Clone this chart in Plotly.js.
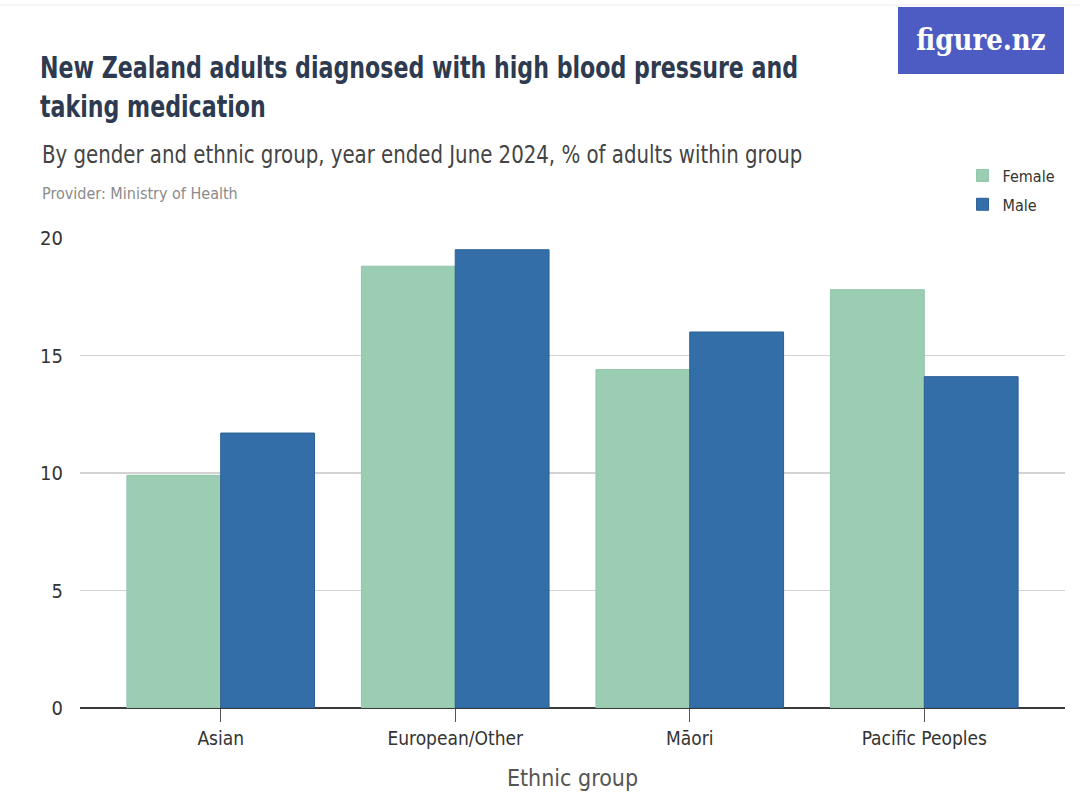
<!DOCTYPE html>
<html>
<head>
<meta charset="utf-8">
<script src="https://cdn.plot.ly/plotly-3.0.1.min.js"></script>
<style>
  html, body { margin: 0; padding: 0; background: #ffffff; }
  #chart { width: 1080px; height: 806px; }
</style>
</head>
<body>
<div id="chart"></div>
<script>
// Ethnic groups and the share (%) of adults in each group on blood pressure medication
const categories = ["Asian", "European/Other", "Māori", "Pacific Peoples"];
const femaleValues = [9.9, 18.8, 14.4, 17.8];
const maleValues = [11.7, 19.5, 16.0, 14.1];
const yTicks = [0, 5, 10, 15, 20];

const FONT = '"DejaVu Sans Condensed", "Liberation Sans", sans-serif';

const traces = [
  {
    type: "bar",
    name: "Female",
    legendgroup: "female",
    x: categories,
    y: femaleValues,
    marker: { color: "#9acdb2", line: { color: "#92c6aa", width: 1 } },
    hoverinfo: "x+y+name"
  },
  {
    type: "bar",
    name: "Male",
    legendgroup: "male",
    x: categories,
    y: maleValues,
    marker: { color: "#336ea9", line: { color: "#2b5f95", width: 1 } },
    hoverinfo: "x+y+name"
  }
];

const layout = {
  width: 1080,
  height: 806,
  paper_bgcolor: "#ffffff",
  plot_bgcolor: "#ffffff",
  font: { family: FONT, color: "#333333" },
  margin: { l: 80, r: 15, t: 238, b: 98, autoexpand: false },
  barmode: "group",
  bargap: 0.2,
  bargroupgap: 0,
  title: {
    text: "New Zealand adults diagnosed with high blood pressure and<br>taking medication",
    font: { family: FONT, size: 30, weight: "bold", color: "#2d3a4f" },
    xref: "container",
    yref: "container",
    x: 40 / 1080,
    xanchor: "left",
    y: 1 - 78 / 806,
    yanchor: "top"
  },
  xaxis: {
    type: "category",
    range: [-0.6, 3.6],
    showgrid: false,
    showline: false,
    zeroline: false,
    ticks: "outside",
    ticklen: 13,
    tickwidth: 1,
    tickcolor: "#555555",
    tickfont: { family: FONT, size: 19, color: "#333333" },
    title: {
      text: "Ethnic group",
      font: { family: FONT, size: 23, color: "#555555" },
      standoff: 22
    },
    fixedrange: true
  },
  yaxis: {
    range: [0, 20],
    tickvals: yTicks,
    ticktext: yTicks.map(String),
    showgrid: true,
    gridcolor: "#d3d3d3",
    gridwidth: 1.2,
    zeroline: true,
    zerolinecolor: "#3a3a3a",
    zerolinewidth: 1.6,
    showline: false,
    ticks: "outside",
    ticklen: 12,
    tickcolor: "rgba(0,0,0,0)",
    tickfont: { family: FONT, size: 20, color: "#333333" },
    fixedrange: true
  },
  legend: {
    x: 0.896,
    xanchor: "left",
    y: 1.169,
    yanchor: "top",
    traceorder: "grouped",
    tracegroupgap: 5,
    font: { family: FONT, size: 16, color: "#333333" },
    itemwidth: 30,
    bgcolor: "rgba(0,0,0,0)"
  },
  shapes: [
    // faint page rule along the top edge
    {
      type: "line", xref: "paper", yref: "paper",
      x0: -80 / 985, x1: 1000 / 985, y0: (708 - 5) / 470, y1: (708 - 5) / 470,
      line: { color: "#ececec", width: 1 }
    },
    // brand block
    {
      type: "rect", xref: "paper", yref: "paper",
      x0: (898 - 80) / 985, x1: (1064 - 80) / 985,
      y0: (708 - 74) / 470, y1: (708 - 7) / 470,
      fillcolor: "#4d5cc2", line: { width: 0 }
    }
  ],
  annotations: [
    {
      text: "By gender and ethnic group, year ended June 2024, % of adults within group",
      xref: "paper", yref: "paper",
      x: (40 - 80) / 985, xanchor: "left", align: "left",
      y: (708 - 155) / 470, yanchor: "middle",
      showarrow: false,
      font: { family: FONT, size: 24, color: "#444444" }
    },
    {
      text: "Provider: Ministry of Health",
      xref: "paper", yref: "paper",
      x: (40 - 80) / 985, xanchor: "left", align: "left",
      y: (708 - 193) / 470, yanchor: "middle",
      showarrow: false,
      font: { family: FONT, size: 16, color: "#8a8a8a" }
    },
    {
      text: "figure.nz",
      xref: "paper", yref: "paper",
      x: (981 - 80) / 985, xanchor: "center",
      y: (708 - 40) / 470, yanchor: "middle",
      showarrow: false,
      font: { family: '"DejaVu Serif", "Liberation Serif", serif', size: 29, weight: "bold", color: "#ffffff" }
    }
  ]
};

// Narrow a text element (or each of its lines) horizontally by a factor,
// keeping its anchor, so the condensed headline lettering fits its space.
function condense(el, factor) {
  const lines = el.querySelectorAll("tspan.line");
  const targets = lines.length ? Array.from(lines) : [el];
  targets.forEach(t => {
    const len = t.getComputedTextLength();
    if (len > 0) {
      t.setAttribute("textLength", (len * factor).toFixed(1));
      t.setAttribute("lengthAdjust", "spacingAndGlyphs");
    }
  });
}

Plotly.newPlot("chart", traces, layout, { displayModeBar: false, staticPlot: true }).then(gd => {
  const title = gd.querySelector("text.gtitle");
  if (title) condense(title, 0.82);
  const ann = gd.querySelectorAll("g.annotation text.annotation-text");
  if (ann[0]) condense(ann[0], 0.915);
  if (ann[2]) condense(ann[2], 0.9);
});
</script>
</body>
</html>
